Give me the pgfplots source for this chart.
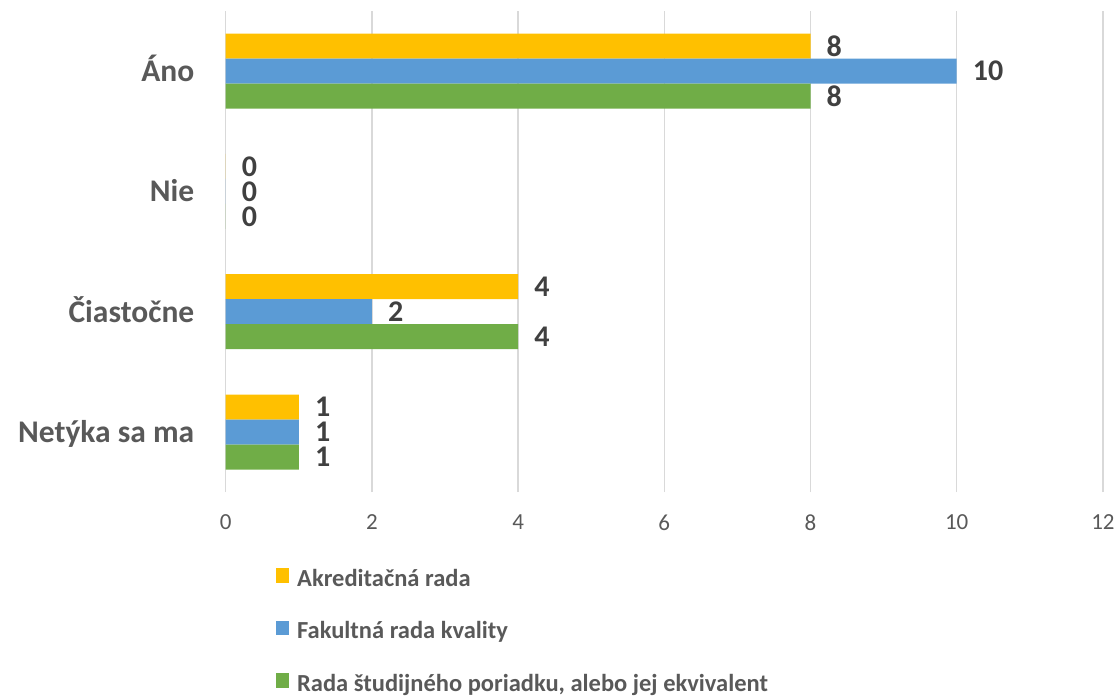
\documentclass[border=0pt]{standalone}
\usepackage{fontspec}
\setmainfont{Carlito}
\usepackage{pgfplots}
\pgfplotsset{compat=1.18}
\definecolor{cOr}{HTML}{FFC000}
\definecolor{cBl}{HTML}{5B9BD5}
\definecolor{cGr}{HTML}{70AD47}
\definecolor{gridc}{HTML}{D9D9D9}
\definecolor{lab}{HTML}{595959}
\definecolor{val}{HTML}{404040}
\pgfplotsset{sqlegend/.style={legend image code/.code={\fill[##1] (0pt,-3pt) rectangle (13pt,11.5pt);}}}
\begin{document}
\begin{tikzpicture}
\path[use as bounding box] (0,0) rectangle (1119pt,-696pt);
\begin{axis}[
  at={(225.7pt,-492.2pt)}, anchor=south west,
  scale only axis, width=877.2pt, height=481.3pt,
  xmin=0, xmax=12, ymin=-0.5, ymax=3.5,
  xtick={0,2,...,12}, ytick={0,1,2,3},
  yticklabels={Netýka sa ma,Čiastočne,Nie,Áno},
  xmajorgrids, major grid style={draw=gridc, line width=1.3pt},
  axis line style={draw=none}, major tick style={draw=none},
  xbar, bar width=0.2078,
  /pgf/number format/assume math mode=true,
  xticklabel style={font=\fontsize{23}{23}\selectfont, text=lab, anchor=center, inner sep=0pt, yshift=-30.3pt},
  yticklabel style={font=\bfseries\fontsize{31.5}{31.5}\selectfont, text=lab, anchor=base east, inner sep=0pt, xshift=-27pt, yshift=-10.5pt},
  nodes near coords,
  nodes near coords style={font=\bfseries\fontsize{30}{30}\selectfont, text=val, inner sep=0pt, anchor=west, xshift=16pt},
  legend style={draw=none, fill=none, inner sep=0pt, at={(0.0573,-0.158)}, anchor=north west,
    row sep=29.5pt, column sep=8pt,
    nodes={inner sep=0pt, text height=18pt, text depth=5pt, font=\bfseries\fontsize{24.5}{24.5}\selectfont, text=lab}},
  legend cell align=left,
]
\addplot[fill=cOr, draw=none, bar shift=0.2078, sqlegend] coordinates {(8,3) (0,2) (4,1) (1,0)};
\addplot[fill=cBl, draw=none, bar shift=0, sqlegend] coordinates {(10,3) (0,2) (2,1) (1,0)};
\addplot[fill=cGr, draw=none, bar shift=-0.2078, sqlegend] coordinates {(8,3) (0,2) (4,1) (1,0)};
\legend{Akreditačná rada, Fakultná rada kvality, {Rada študijného poriadku, alebo jej ekvivalent}}
\end{axis}
\end{tikzpicture}
\end{document}
